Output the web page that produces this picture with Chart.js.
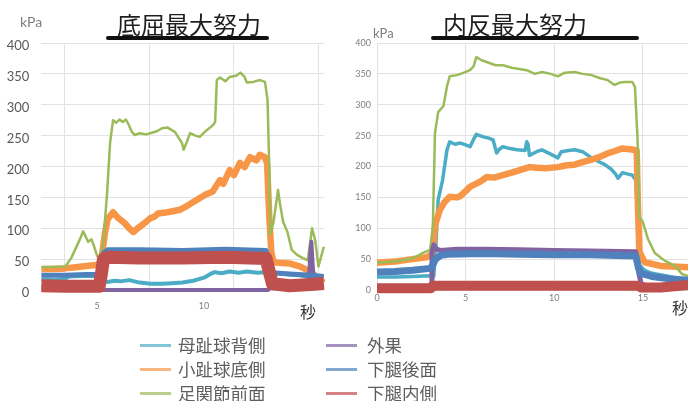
<!DOCTYPE html>
<html>
<head>
<meta charset="utf-8">
<script src="https://cdn.jsdelivr.net/npm/chart.js@4.4.1/dist/chart.umd.min.js"></script>
<style>
  html, body { margin: 0; padding: 0; background: #fff; width: 688px; height: 401px; overflow: hidden; }
  body { position: relative; font-family: "Noto Sans CJK JP", sans-serif; }
  .abs { position: absolute; }
  .title { font-size: 24px; color: #1e1e1e; line-height: 30px; text-align: center; width: 200px; white-space: nowrap; }
  .bar { height: 4px; background: #111; border-radius: 2px; }
  .unit { font-family: Lato, "Open Sans", sans-serif; color: #7f7f7f; white-space: nowrap; }
  .sec { font-size: 16px; color: #333; line-height: 18px; }
  .lg-line { height: 3px; }
  .lg-text { font-size: 17.5px; line-height: 22px; color: #5e5e5e; white-space: nowrap; }
</style>
</head>
<body>
  <div class="abs" style="left:0;top:0;width:330px;height:320px"><canvas id="plantar" width="330" height="320"></canvas></div>
  <div class="abs" style="left:330px;top:0;width:370px;height:320px"><canvas id="inversion" width="370" height="320"></canvas></div>

  <div class="abs title" style="left:89px;top:9px">底屈最大努力</div>
  <div class="abs bar" style="left:106px;top:36px;width:163px"></div>
  <div class="abs title" style="left:415px;top:9px">内反最大努力</div>
  <div class="abs bar" style="left:431px;top:36px;width:208px"></div>

  <div class="abs unit" style="left:20px;top:13px;font-size:14px;line-height:18px">kPa</div>
  <div class="abs unit" style="left:373px;top:25px;font-size:13px;line-height:16px">kPa</div>
  <div class="abs sec" style="left:300px;top:302px">秒</div>
  <div class="abs sec" style="left:672px;top:298px">秒</div>

  <div id="legend"></div>

<script>
// Sensor names and colours (same order in both panels)
const seriesNames  = ['母趾球背側', '小趾球底側', '足関節前面', '外果', '下腿後面', '下腿内側'];
const seriesColors = ['#4bacc6', '#f79646', '#9bbb59', '#8064a2', '#4f81bd', '#c0504d'];

// Axis ticks
const yTicks           = [0, 50, 100, 150, 200, 250, 300, 350, 400];
const plantarXTicks    = [5, 10];
const plantarGridSecs  = [3.5, 7.45, 11.4, 15.35];
const inversionXTicks  = [0, 5, 10, 15];

// ---- 底屈最大努力: [seconds, kPa] ----
const plantarBoshi = [[2.4,17],[3.0,16],[3.5,18],[3.7,22],[4.5,23],[5.1,22],[5.25,17],[5.5,13],[5.8,15],[6.1,14],[6.5,16],[7.0,12],[7.5,10],[8.0,10],[8.5,11],[9.0,12],[9.5,15],[10.0,20],[10.3,26],[10.5,29],[10.8,27],[11.2,30],[11.6,28],[12.0,30],[12.5,28],[13.0,29],[13.5,27],[14.0,25],[14.5,24],[15.0,20],[15.3,15],[15.6,11]];
const plantarShoshi = [[2.4,34],[3.0,34],[3.5,35],[4.0,37],[4.5,39],[5.05,41],[5.2,48],[5.37,92],[5.5,115],[5.75,126],[5.95,118],[6.3,108],[6.5,100],[6.7,94],[6.9,100],[7.1,105],[7.48,116],[7.7,119],[7.85,124],[8.3,126],[8.88,130],[9.2,136],[9.67,146],[10.1,155],[10.4,159],[10.75,178],[10.9,172],[11.2,194],[11.4,186],[11.68,206],[11.9,199],[12.15,215],[12.45,210],[12.6,219],[12.85,215],[12.95,205],[13.05,120],[13.15,60],[13.25,45],[13.5,44],[14.0,43],[14.5,38],[14.9,31],[15.1,26],[15.35,18],[15.6,12]];
const plantarAnkle = [[2.4,37],[3.5,38],[3.6,42],[3.8,52],[3.97,65],[4.2,82],[4.35,95],[4.45,88],[4.58,78],[4.74,82],[4.85,72],[5.0,56],[5.14,49],[5.28,72],[5.47,157],[5.61,238],[5.75,275],[5.9,271],[6.05,276],[6.2,272],[6.35,276],[6.45,270],[6.63,256],[6.77,251],[7.0,254],[7.3,252],[7.6,255],[7.8,257],[8.04,262],[8.3,263],[8.64,256],[8.97,238],[9.05,227],[9.2,240],[9.35,254],[9.6,250],[9.8,248],[10.1,258],[10.42,267],[10.52,272],[10.6,340],[10.75,344],[11.0,338],[11.2,345],[11.5,347],[11.7,352],[11.9,345],[12.0,336],[12.3,337],[12.62,340],[12.85,337],[12.97,308],[13.05,200],[13.1,90],[13.25,110],[13.46,162],[13.55,140],[13.7,110],[13.9,94],[14.1,65],[14.35,57],[14.6,52],[14.85,48],[15.05,100],[15.2,80],[15.35,38],[15.6,70]];
const plantarMalleolus = [[2.4,5],[3.5,3],[5.0,1],[5.2,0],[13.0,0],[13.1,4],[13.5,7],[14.5,8],[14.9,10],[14.97,60],[15.02,78],[15.08,40],[15.15,10],[15.3,6],[15.6,4]];
const plantarCalfBack = [[2.4,24],[3.5,24],[4.5,25],[5.1,25],[5.2,40],[5.3,60],[5.5,65],[7.0,65],[9.0,64],[11.0,66],[12.9,64],[13.05,45],[13.2,28],[14.0,26],[15.0,24],[15.6,22]];
const plantarCalfInner = [[2.4,7],[3.5,6],[5.1,6],[5.2,25],[5.3,50],[5.5,53],[7.0,52],[9.0,52],[11.0,53],[12.9,51],[13.05,30],[13.2,10],[14.0,7],[15.0,9],[15.6,11]];

// ---- 内反最大努力: [seconds, kPa] ----
const inversionBoshi = [[0,21],[1,21],[2,22],[3.0,23],[3.2,22],[3.3,60],[3.45,146],[3.7,178],[3.95,227],[4.1,240],[4.4,236],[4.7,238],[5.0,235],[5.25,232],[5.45,244],[5.6,252],[6.0,248],[6.3,246],[6.55,243],[6.75,222],[6.9,228],[7.1,232],[7.5,229],[7.9,227],[8.35,226],[8.45,240],[8.52,236],[8.6,218],[9.0,224],[9.3,227],[9.8,220],[10.2,214],[10.4,224],[10.8,226],[11.15,227],[11.6,224],[12.1,214],[12.5,208],[12.85,203],[13.2,196],[13.45,188],[13.6,181],[13.85,190],[14.1,188],[14.4,186],[14.6,178],[14.7,120],[14.8,40],[15.1,32],[15.5,27],[16.5,22],[17.6,16]];
const inversionShoshi = [[0,44],[1.0,46],[2.0,50],[2.8,53],[3.1,58],[3.2,80],[3.27,105],[3.55,130],[3.8,142],[4.1,151],[4.5,150],[4.7,152],[5.0,160],[5.24,167],[5.8,175],[6.2,183],[6.6,182],[7.1,186],[7.6,190],[8.06,194],[8.6,199],[9.0,198],[9.5,197],[10.2,199],[10.7,202],[11.15,203],[11.6,207],[12.1,211],[12.6,216],[13.0,221],[13.5,226],[13.8,229],[14.3,228],[14.65,226],[14.72,135],[14.8,62],[15.1,45],[16.0,39],[17.6,37]];
const inversionAnkle = [[0,44],[1.0,46],[2.0,51],[2.6,60],[3.0,65],[3.15,102],[3.27,254],[3.45,288],[3.75,298],[3.95,330],[4.1,346],[4.5,348],[4.9,352],[5.24,356],[5.45,362],[5.6,377],[5.9,372],[6.3,368],[6.7,364],[7.1,364],[7.6,360],[8.45,356],[8.9,350],[9.3,353],[9.8,350],[10.2,346],[10.6,352],[11.15,353],[11.6,350],[12.1,348],[12.6,343],[13.0,340],[13.4,332],[13.7,336],[14.0,337],[14.4,337],[14.55,329],[14.7,243],[14.8,118],[15.0,110],[15.28,83],[15.67,60],[16.2,48],[16.8,39],[17.2,26],[17.6,22]];
const inversionMalleolus = [[0,0],[3.05,0],[3.1,60],[3.2,73],[3.35,66],[3.6,64],[4.5,66],[6.0,66],[8.0,65],[10.0,64],[12.0,63],[14.6,62],[14.75,30],[14.9,10],[15.5,4],[16.5,5],[17.6,6]];
const inversionCalfBack = [[0,29],[1,30],[2,32],[3.0,35],[3.1,38],[3.3,50],[3.6,56],[4.0,58],[6.0,59],[8.0,58],[10.0,57],[12.0,57],[14.6,55],[14.75,35],[14.9,27],[15.5,22],[16.5,18],[17.6,16]];
const inversionCalfInner = [[0,3],[3.05,3],[3.15,7],[6.0,7],[10.0,7],[14.7,7],[14.9,4],[16.0,4],[17.6,8]];

// Line widths per sensor for each panel (the raw signals are noisy bands)
const plantarWidths   = [4, 6.5, 2.5, 4, 5, 13];
const inversionWidths = [3.5, 6.5, 2.5, 5, 7, 10];

const gridColor = '#e2e2e2';
const tickFont = 'Lato, "Open Sans", sans-serif';

function buildDatasets(series, widths) {
  return series.map((pts, i) => ({
    label: seriesNames[i],
    data: pts.map(p => ({ x: p[0], y: p[1] })),
    borderColor: seriesColors[i],
    backgroundColor: seriesColors[i],
    borderWidth: widths[i],
    pointRadius: 0,
    tension: 0,
    fill: false,
    clip: false,
    borderJoinStyle: 'round',
    order: series.length - i
  }));
}

function setTicks(values) {
  return scale => { scale.ticks = values.map(v => ({ value: v })); };
}

const common = {
  type: 'line',
  options: {
    responsive: false,
    animation: false,
    devicePixelRatio: 1,
    plugins: { legend: { display: false }, tooltip: { enabled: false }, title: { display: false } },
    events: []
  }
};

// 底屈最大努力
new Chart(document.getElementById('plantar'), {
  ...common,
  data: { datasets: buildDatasets(
    [plantarBoshi, plantarShoshi, plantarAnkle, plantarMalleolus, plantarCalfBack, plantarCalfInner],
    plantarWidths) },
  options: {
    ...common.options,
    layout: { padding: { left: 0, top: 43, right: 6.2, bottom: 0 } },
    scales: {
      x: {
        type: 'linear', position: 'bottom', min: 2.4, max: 15.6,
        afterBuildTicks: setTicks(plantarXTicks),
        afterFit: s => { s.height = 30; },
        grid: { display: false }, border: { display: false },
        ticks: { font: { size: 9, family: tickFont }, color: '#7f7f7f', padding: 3, maxRotation: 0, autoSkip: false }
      },
      xg: {
        type: 'linear', position: 'top', min: 2.4, max: 15.6,
        afterBuildTicks: setTicks(plantarGridSecs),
        afterFit: s => { s.height = 0; },
        grid: { color: gridColor, drawTicks: false }, border: { display: false },
        ticks: { display: false }
      },
      y: {
        type: 'linear', min: 0, max: 400,
        afterBuildTicks: setTicks(yTicks),
        afterFit: s => { s.width = 41.4; },
        grid: { color: gridColor, drawTicks: false }, border: { display: false },
        ticks: { font: { size: 13, family: tickFont }, color: '#595959', padding: 12, labelOffset: 3 }
      }
    }
  }
});

// 内反最大努力
new Chart(document.getElementById('inversion'), {
  ...common,
  data: { datasets: buildDatasets(
    [inversionBoshi, inversionShoshi, inversionAnkle, inversionMalleolus, inversionCalfBack, inversionCalfInner],
    inversionWidths) },
  options: {
    ...common.options,
    layout: { padding: { left: 0, top: 43, right: 11, bottom: 0 } },
    scales: {
      x: {
        type: 'linear', position: 'bottom', min: 0, max: 17.6,
        afterBuildTicks: setTicks(inversionXTicks),
        afterFit: s => { s.height = 30; },
        grid: { color: gridColor, drawTicks: false }, border: { display: false },
        ticks: { font: { size: 9, family: tickFont }, color: '#7f7f7f', padding: 3, maxRotation: 0, autoSkip: false }
      },
      y: {
        type: 'linear', min: 0, max: 400,
        afterBuildTicks: setTicks(yTicks),
        afterFit: s => { s.width = 47; },
        grid: { color: gridColor, drawTicks: false }, border: { display: false },
        ticks: { font: { size: 9, family: tickFont }, color: '#7f7f7f', padding: 6 }
      }
    }
  }
});

// Legend: two columns of three entries
const legend = document.getElementById('legend');
const colLine = [140, 326], colText = [178, 367];
seriesNames.forEach((name, i) => {
  const col = Math.floor(i / 3), row = i % 3;
  const cy = 345 + row * 24;
  const line = document.createElement('div');
  line.className = 'abs lg-line';
  line.style.cssText = `left:${colLine[col]}px;top:${cy - 1.5}px;width:31px;background:${seriesColors[i]};opacity:0.7`;
  const text = document.createElement('div');
  text.className = 'abs lg-text';
  text.style.cssText = `left:${colText[col]}px;top:${cy - 11}px`;
  text.textContent = name;
  legend.appendChild(line);
  legend.appendChild(text);
});
</script>
</body>
</html>
